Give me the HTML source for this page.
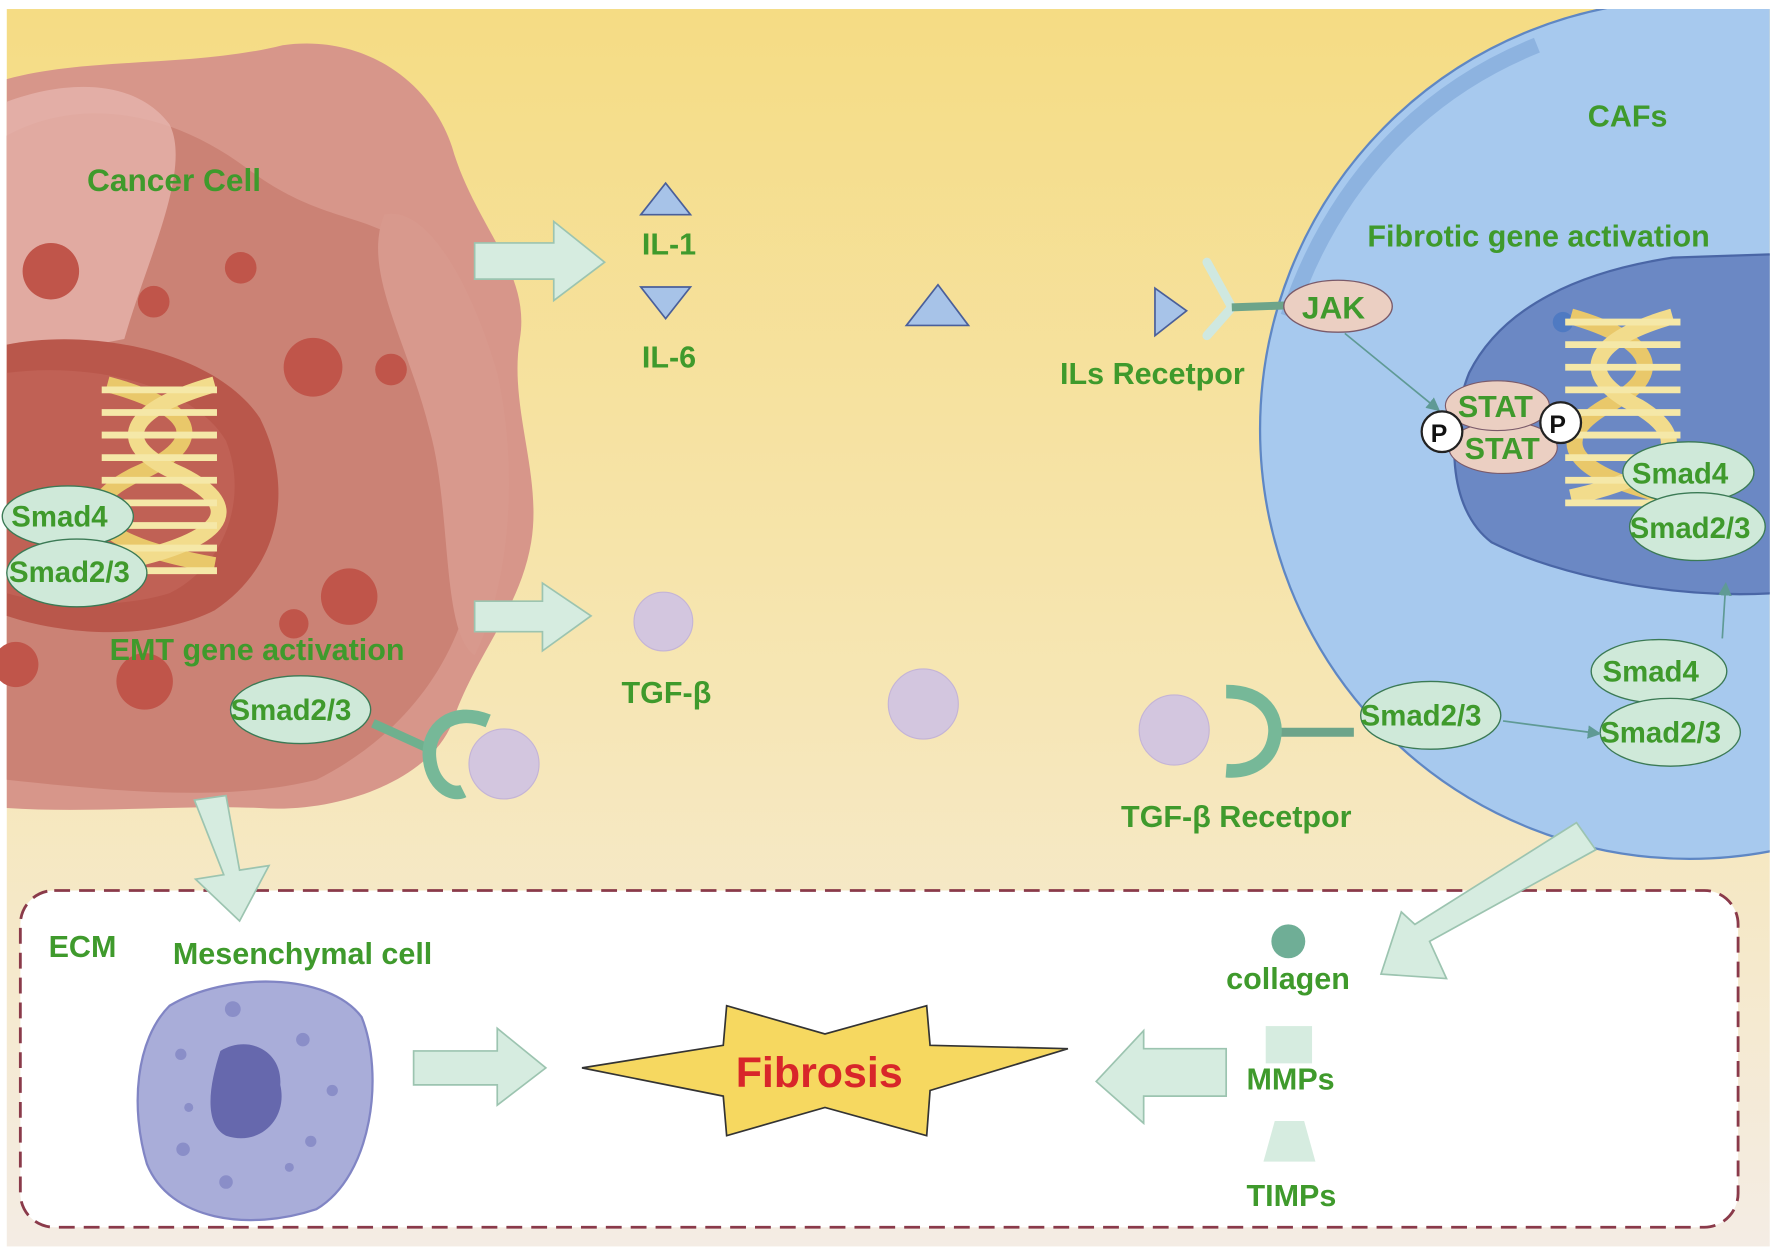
<!DOCTYPE html>
<html><head><meta charset="utf-8"><style>
html,body{margin:0;padding:0;background:#fff}
svg{display:block}
text{font-family:"Liberation Sans",sans-serif;font-weight:bold;fill:#3f9a2c}
</style></head><body>
<svg width="1772" height="1260" viewBox="0 0 1568 1115" preserveAspectRatio="none" xmlns="http://www.w3.org/2000/svg">
<defs>
<linearGradient id="bg" x1="0" y1="0" x2="0" y2="1">
<stop offset="0" stop-color="#f5dc84"/><stop offset="0.55" stop-color="#f6e6b4"/><stop offset="1" stop-color="#f4ece4"/>
</linearGradient>
<marker id="ah" markerWidth="8" markerHeight="8" refX="6" refY="4" orient="auto"><path d="M0,0 L8,4 L0,8z" fill="#5f9a95"/></marker>
<clipPath id="cl"><rect x="6" y="8" width="1560" height="1095"/></clipPath>
</defs>
<rect x="0" y="0" width="1568" height="1115" fill="#fff"/>
<rect x="6" y="8" width="1560" height="1095" fill="url(#bg)"/>
<!-- Cancer cell -->
<path d="M6,70 C80,50 170,60 250,40 C320,30 380,70 400,130 C420,200 470,240 460,300 C450,360 480,420 470,480 C460,540 420,580 400,640 C380,690 300,720 230,715 C160,712 80,720 6,715 Z" fill="#d7968a"/>
<path d="M6,120 C60,90 140,90 220,150 C300,210 350,180 380,250 C420,330 430,420 420,500 C410,580 360,650 280,690 C200,710 100,700 6,690 Z" fill="#cb8275"/>
<path d="M6,90 C60,70 120,70 150,110 C170,150 130,230 110,300 L6,320 Z" fill="#e6b4ac" opacity="0.8"/>
<path d="M340,190 C380,180 420,260 440,330 C460,420 450,520 420,580 C390,560 400,450 380,380 C360,300 320,240 340,190Z" fill="#d8998d"/>
<path d="M6,305 C80,290 190,310 230,370 C260,430 250,500 190,540 C130,570 50,560 6,545 Z" fill="#b9574b"/>
<path d="M6,330 C80,320 170,340 200,390 C220,440 200,500 150,525 C100,540 40,535 6,525 Z" fill="#c4685b" opacity="0.6"/>
<g fill="#c0554a"><circle cx="45" cy="240" r="25"/><circle cx="213" cy="237" r="14"/><circle cx="136" cy="267" r="14"/><circle cx="277" cy="325" r="26"/><circle cx="346" cy="327" r="14"/><circle cx="309" cy="528" r="25"/><circle cx="260" cy="552" r="13"/><circle cx="128" cy="603" r="25"/><circle cx="14" cy="588" r="20"/></g>
<!-- DNA left -->
<g>
<path d="M95,340 C170,360 190,390 120,420 C60,450 80,480 190,500" stroke="#e9c86a" stroke-width="14" fill="none"/>
<path d="M190,340 C120,360 90,390 160,420 C220,450 200,480 95,500" stroke="#f2dc8c" stroke-width="14" fill="none"/>
<g stroke="#f5e8a8" stroke-width="6"><line x1="90" y1="345" x2="192" y2="345"/><line x1="90" y1="365" x2="192" y2="365"/><line x1="90" y1="385" x2="192" y2="385"/><line x1="90" y1="405" x2="192" y2="405"/><line x1="90" y1="425" x2="192" y2="425"/><line x1="90" y1="445" x2="192" y2="445"/><line x1="90" y1="465" x2="192" y2="465"/><line x1="90" y1="485" x2="192" y2="485"/><line x1="90" y1="505" x2="192" y2="505"/></g>
</g>
<g stroke="#3b7a55" stroke-width="1.2" fill="#cfe9d9">
<ellipse cx="60" cy="457" rx="58" ry="27"/><ellipse cx="68" cy="507" rx="62" ry="30"/>
<ellipse cx="266" cy="628" rx="62" ry="30"/></g>
<text x="10" y="466" font-size="26">Smad4</text>
<text x="8" y="515" font-size="26">Smad2/3</text>
<text x="204" y="637" font-size="26">Smad2/3</text>
<text x="77" y="169" font-size="28">Cancer Cell</text>
<text x="97" y="584" font-size="27">EMT gene activation</text>
<!-- receptor left -->
<line x1="330" y1="640" x2="385" y2="665" stroke="#6fb08e" stroke-width="8"/>
<path d="M432,638 C400,625 378,645 380,670 C382,695 400,705 410,700" stroke="#76b898" stroke-width="12" fill="none"/>
<circle cx="446" cy="676" r="31" fill="#d3c6df" stroke="#c4b4d6"/>
<!-- CAF -->
<g clip-path="url(#cl)">
<circle cx="1495" cy="380" r="380" fill="#a7c9ee" stroke="#5f87c4" stroke-width="2"/>
<path d="M1140,280 C1180,160 1260,80 1360,40" stroke="#8db3e0" stroke-width="14" fill="none"/>
<path d="M1300,330 C1330,270 1400,240 1480,228 L1568,225 L1568,525 C1480,530 1380,510 1320,480 C1280,450 1280,380 1300,330Z" fill="#6b88c4" stroke="#4a66a6" stroke-width="2"/>
</g>
<circle cx="1383" cy="285" r="9" fill="#4f7ac2"/>
<g>
<path d="M1390,280 C1460,300 1480,330 1420,360 C1370,390 1390,420 1480,440" stroke="#e9c86a" stroke-width="14" fill="none"/>
<path d="M1480,280 C1410,300 1390,330 1450,360 C1500,390 1480,420 1390,440" stroke="#f2dc8c" stroke-width="14" fill="none"/>
<g stroke="#f5e8a8" stroke-width="6"><line x1="1385" y1="285" x2="1487" y2="285"/><line x1="1385" y1="305" x2="1487" y2="305"/><line x1="1385" y1="325" x2="1487" y2="325"/><line x1="1385" y1="345" x2="1487" y2="345"/><line x1="1385" y1="365" x2="1487" y2="365"/><line x1="1385" y1="385" x2="1487" y2="385"/><line x1="1385" y1="405" x2="1487" y2="405"/><line x1="1385" y1="425" x2="1487" y2="425"/><line x1="1385" y1="445" x2="1487" y2="445"/></g>
</g>
<text x="1405" y="112" font-size="27">CAFs</text>
<text x="1210" y="218" font-size="27">Fibrotic gene activation</text>
<!-- JAK -->
<path d="M1022,255 L1050,275 L1022,297Z" fill="#a7c3e8" stroke="#4a5f9a" stroke-width="1.5"/>
<path d="M1068,232 L1090,272 L1068,297" stroke="#cfe8e0" stroke-width="8" fill="none" stroke-linecap="round"/>
<line x1="1090" y1="272" x2="1145" y2="270" stroke="#6da48a" stroke-width="7"/>
<ellipse cx="1184" cy="271" rx="48" ry="23" fill="#ebcfc2" stroke="#7a5a6a" stroke-width="1.2"/>
<text x="1152" y="282" font-size="28">JAK</text>
<text x="938" y="340" font-size="27">ILs Recetpor</text>
<line x1="1190" y1="295" x2="1272" y2="362" stroke="#5f9a95" stroke-width="1.5" marker-end="url(#ah)"/>
<ellipse cx="1330" cy="396" rx="48" ry="23" fill="#ebcfc2" stroke="#7a5a6a"/>
<ellipse cx="1325" cy="359" rx="46" ry="22" fill="#ebcfc2" stroke="#7a5a6a"/>
<text x="1290" y="369" font-size="27">STAT</text>
<text x="1296" y="406" font-size="27">STAT</text>
<circle cx="1276" cy="382" r="18" fill="#fff" stroke="#222" stroke-width="2"/><text x="1266" y="391" font-size="22" font-weight="normal" style="fill:#111">P</text>
<circle cx="1381" cy="374" r="18" fill="#fff" stroke="#222" stroke-width="2"/><text x="1371" y="383" font-size="22" font-weight="normal" style="fill:#111">P</text>
<g stroke="#3b7a55" stroke-width="1.2" fill="#cfe9d9">
<ellipse cx="1494" cy="418" rx="58" ry="27"/><ellipse cx="1502" cy="466" rx="60" ry="30"/>
<ellipse cx="1468" cy="594" rx="60" ry="28"/><ellipse cx="1478" cy="648" rx="62" ry="30"/>
<ellipse cx="1266" cy="633" rx="62" ry="30"/></g>
<text x="1444" y="428" font-size="26">Smad4</text>
<text x="1442" y="476" font-size="26">Smad2/3</text>
<text x="1418" y="603" font-size="26">Smad4</text>
<text x="1416" y="657" font-size="26">Smad2/3</text>
<text x="1204" y="642" font-size="26">Smad2/3</text>
<line x1="1524" y1="565" x2="1527" y2="518" stroke="#5f9a95" stroke-width="1.5" marker-end="url(#ah)"/>
<line x1="1330" y1="638" x2="1414" y2="649" stroke="#5f9a95" stroke-width="1.5" marker-end="url(#ah)"/>
<!-- TGF receptor right -->
<line x1="1128" y1="648" x2="1198" y2="648" stroke="#6da48a" stroke-width="8"/>
<path d="M1085,612 C1120,612 1130,635 1128,650 C1126,670 1110,684 1085,682" stroke="#76b898" stroke-width="12" fill="none"/>
<circle cx="1039" cy="646" r="31" fill="#d3c6df" stroke="#c4b4d6"/>
<circle cx="817" cy="623" r="31" fill="#d3c6df" stroke="#c4b4d6"/>
<circle cx="587" cy="550" r="26" fill="#d3c6df" stroke="#c4b4d6"/>
<text x="992" y="732" font-size="27">TGF-β Recetpor</text>
<text x="550" y="622" font-size="27">TGF-β</text>
<!-- IL -->
<path d="M567,190 L589,162 L611,190Z" fill="#a7c3e8" stroke="#4a5f9a" stroke-width="1.5"/>
<path d="M567,254 L611,254 L589,282Z" fill="#a7c3e8" stroke="#4a5f9a" stroke-width="1.5"/>
<path d="M802,288 L830,252 L857,288Z" fill="#a7c3e8" stroke="#4a5f9a" stroke-width="1.5"/>
<text x="568" y="225" font-size="27">IL-1</text>
<text x="568" y="325" font-size="27">IL-6</text>
<!-- ECM box -->
<rect x="18" y="788" width="1520" height="298" rx="30" fill="#fff" stroke="#8a3a4a" stroke-width="2.5" stroke-dasharray="14,8"/>
<!-- big arrows -->
<g fill="#d6ece0" stroke="#9cc4b0" stroke-width="1.5">
<path d="M420,215 L490,215 L490,196 L535,232 L490,266 L490,247 L420,247Z"/>
<path d="M420,532 L480,532 L480,516 L523,545 L480,576 L480,559 L420,559Z"/>
<path d="M172,708 L200,704 L212,770 L238,766 L212,815 L173,778 L198,774Z"/>
<path d="M366,930 L440,930 L440,910 L483,945 L440,978 L440,960 L366,960Z"/>
<path d="M1085,928 L1012,928 L1012,912 L970,957 L1012,994 L1012,970 L1085,970Z"/>
<path d="M1395,728 L1412,752 L1265,833 L1280,866 L1222,862 L1240,807 L1252,818Z"/>
</g>
<text x="43" y="847" font-size="27">ECM</text>
<text x="153" y="853" font-size="27">Mesenchymal cell</text>
<path d="M150,890 C200,860 290,860 320,900 C340,950 330,1040 280,1070 C220,1090 150,1080 130,1030 C115,980 120,920 150,890Z" fill="#a9add9" stroke="#8185c4" stroke-width="2"/>
<path d="M195,930 C220,915 250,930 248,960 C255,990 230,1015 200,1005 C180,995 185,960 195,930Z" fill="#6668ad"/>
<g fill="#8a8ec8"><circle cx="206" cy="893" r="7"/><circle cx="268" cy="920" r="6"/><circle cx="160" cy="933" r="5"/><circle cx="294" cy="965" r="5"/><circle cx="167" cy="980" r="4"/><circle cx="275" cy="1010" r="5"/><circle cx="162" cy="1017" r="6"/><circle cx="200" cy="1046" r="6"/><circle cx="256" cy="1033" r="4"/></g>
<!-- Fibrosis star -->
<path d="M515,945 L640,925 L643,890 L730,915 L820,890 L823,925 L945,928 L823,965 L820,1005 L730,980 L643,1005 L640,970 Z" fill="#f6d860" stroke="#333" stroke-width="1.5"/>
<text x="651" y="962" font-size="38" style="fill:#d8262a">Fibrosis</text>
<circle cx="1140" cy="833" r="15" fill="#6fae96"/>
<text x="1085" y="875" font-size="27">collagen</text>
<rect x="1120" y="908" width="41" height="33" fill="#d6ece0"/>
<text x="1103" y="964" font-size="27">MMPs</text>
<path d="M1128,992 L1154,992 L1164,1028 L1118,1028Z" fill="#d6ece0"/>
<text x="1103" y="1067" font-size="27">TIMPs</text>
</svg>
</body></html>
